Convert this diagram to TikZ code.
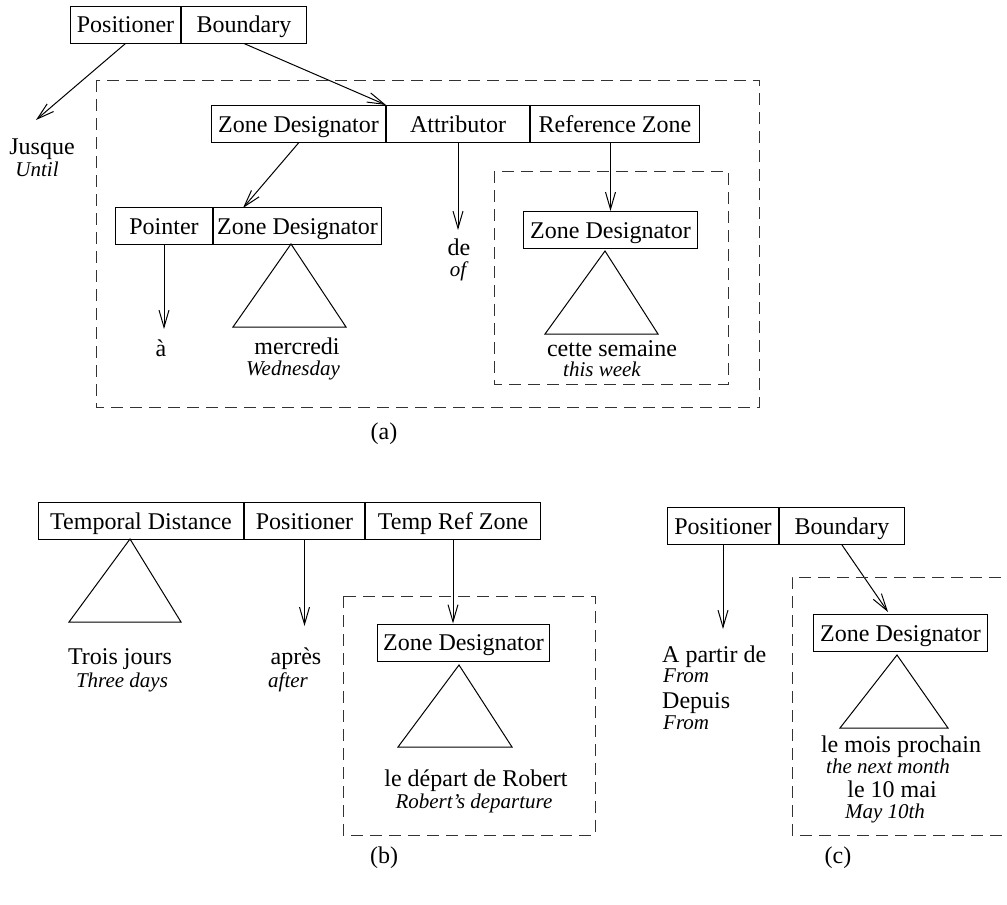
\documentclass[tikz,border=0pt]{standalone}
\usepackage{fontspec}
\setmainfont{Liberation Serif}
\usetikzlibrary{arrows.meta}
\usetikzlibrary{positioning}

\begin{document}
\begin{tikzpicture}[
x=1pt, y=-1pt,
MyCell/.style={draw, line width=1pt, minimum height=37pt, inner sep=0pt, text height=16pt, text depth=0pt, font=\fontsize{24}{28}\selectfont},
MyWord/.style={inner sep=0pt, anchor=base, font=\fontsize{24}{28}\selectfont},
MyGloss/.style={inner sep=0pt, anchor=base, font=\fontsize{21}{24}\selectfont\itshape},
MyArrow/.style={-{Straight Barb[length=6mm, width=3.5mm]}, line width=1pt},
MyZone/.style={draw=black!80, line width=1pt, dash pattern=on 12pt off 7pt},
MyTriangle/.style={draw, line width=1pt}
]
\useasboundingbox (0,0) rectangle (1007,905);

% (a)
\node[MyCell, anchor=west, minimum width=110pt] (PosA) at (70,24.5) {Positioner};
\node[MyCell, minimum width=125pt, right=0pt of PosA] (BndA) {Boundary};

\node[MyCell, anchor=west, minimum width=174pt] (ZdA) at (211,124) {Zone Designator};
\node[MyCell, minimum width=143pt, right=0pt of ZdA] (AttA) {Attributor};
\node[MyCell, minimum width=169pt, right=0pt of AttA] (RefA) {Reference Zone};

\node[MyCell, anchor=west, minimum width=97pt] (PtrA) at (115,226) {Pointer};
\node[MyCell, minimum width=168pt, right=0pt of PtrA] (ZdB) {Zone Designator};

\node[MyCell, anchor=west, minimum width=174pt] (ZdC) at (523,230) {Zone Designator};

\node[MyWord] (Jusque) at (42,154) {Jusque};
\node[MyGloss] (Until) at (37,176) {Until};
\node[MyWord] (De) at (459,255) {de};
\node[MyGloss] (Of) at (458,276) {of};
\node[MyWord] (A) at (161,356) {à};
\node[MyWord] (Mercredi) at (297,354) {mercredi};
\node[MyGloss] (Wednesday) at (293,375) {Wednesday};
\node[MyWord] (Semaine) at (612,356) {cette semaine};
\node[MyGloss] (Week) at (602,376) {this week};

\coordinate (JusqueTip) at (36,120);
\coordinate (ZdTip) at (243,208);
\coordinate (DeTip) at ([yshift=-87pt]AttA.south);
\coordinate (ATip) at ([yshift=-84pt]PtrA.south);

\draw[MyArrow] (PosA.south) -- (JusqueTip);
\draw[MyArrow] (BndA.south) -- (ZdA.north east);
\draw[MyArrow] (ZdA.south) -- (ZdTip);
\draw[MyArrow] (AttA.south) -- (DeTip);
\draw[MyArrow] (ZdC.north |- RefA.south) -- (ZdC.north);
\draw[MyArrow] (PtrA.south) -- (ATip);

\draw[MyTriangle] (291,244) -- (233,327) -- (346,327) -- cycle;
\draw[MyTriangle] (605,251) -- (545,334) -- (658,334) -- cycle;

\draw[MyZone] (96,80) rectangle (759,407);
\draw[MyZone] (494,171) rectangle (728,384);

\node[MyWord, anchor=center] (LabelA) at (384,434) {(a)};

% (b)
\node[MyCell, anchor=west, minimum width=205pt] (TdB) at (38,521) {Temporal Distance};
\node[MyCell, minimum width=120pt, right=0pt of TdB] (PosB) {Positioner};
\node[MyCell, minimum width=175pt, right=0pt of PosB] (TrzB) {Temp Ref Zone};

\node[MyCell, anchor=west, minimum width=172pt] (ZdD) at (377,642.5) {Zone Designator};

\node[MyWord] (Trois) at (120,664) {Trois jours};
\node[MyGloss] (Three) at (122,687) {Three days};
\node[MyWord] (Apres) at (296,664) {après};
\node[MyGloss] (After) at (288,687) {after};
\node[MyWord] (Depart) at (476,786) {le départ de Robert};
\node[MyGloss] (Departure) at (474,808) {Robert's departure};

\coordinate (ApresTip) at ([yshift=-86pt]PosB.south);

\draw[MyArrow] (PosB.south) -- (ApresTip);
\draw[MyArrow] (TrzB.south) -- (TrzB.south |- ZdD.north);

\draw[MyTriangle] (130,539) -- (69,622) -- (181,622) -- cycle;
\draw[MyTriangle] (459,665) -- (398,747) -- (512,747) -- cycle;

\draw[MyZone] (343,596) rectangle (595,835);

\node[MyWord, anchor=center] (LabelB) at (384,858) {(b)};

% (c)
\node[MyCell, anchor=west, minimum width=111pt] (PosC) at (667,526) {Positioner};
\node[MyCell, minimum width=125pt, right=0pt of PosC] (BndC) {Boundary};

\node[MyCell, anchor=west, minimum width=174pt] (ZdE) at (813,633) {Zone Designator};

\node[MyWord, anchor=base west] (Partir) at (662,662) {A partir de};
\node[MyGloss, anchor=base west] (From) at (663,682) {From};
\node[MyWord, anchor=base west] (Depuis) at (662,708) {Depuis};
\node[MyGloss, anchor=base west] (FromB) at (663,729) {From};
\node[MyWord] (Mois) at (901,752) {le mois prochain};
\node[MyGloss] (Month) at (888,773) {the next month};
\node[MyWord] (Mai) at (892,797) {le 10 mai};
\node[MyGloss] (May) at (885,818) {May 10th};

\coordinate (PartirTip) at ([yshift=-84pt]PosC.south);
\coordinate (MoisTip) at (888,612);

\draw[MyArrow] (PosC.south) -- (PartirTip);
\draw[MyArrow] (BndC.south) -- (MoisTip);

\draw[MyTriangle] (897,655) -- (840,728) -- (948,728) -- cycle;

\draw[MyZone] (1020,577) -- (792,577) -- (792,835) -- (1020,835);

\node[MyWord, anchor=center] (LabelC) at (838,858) {(c)};

\end{tikzpicture}
\end{document}
